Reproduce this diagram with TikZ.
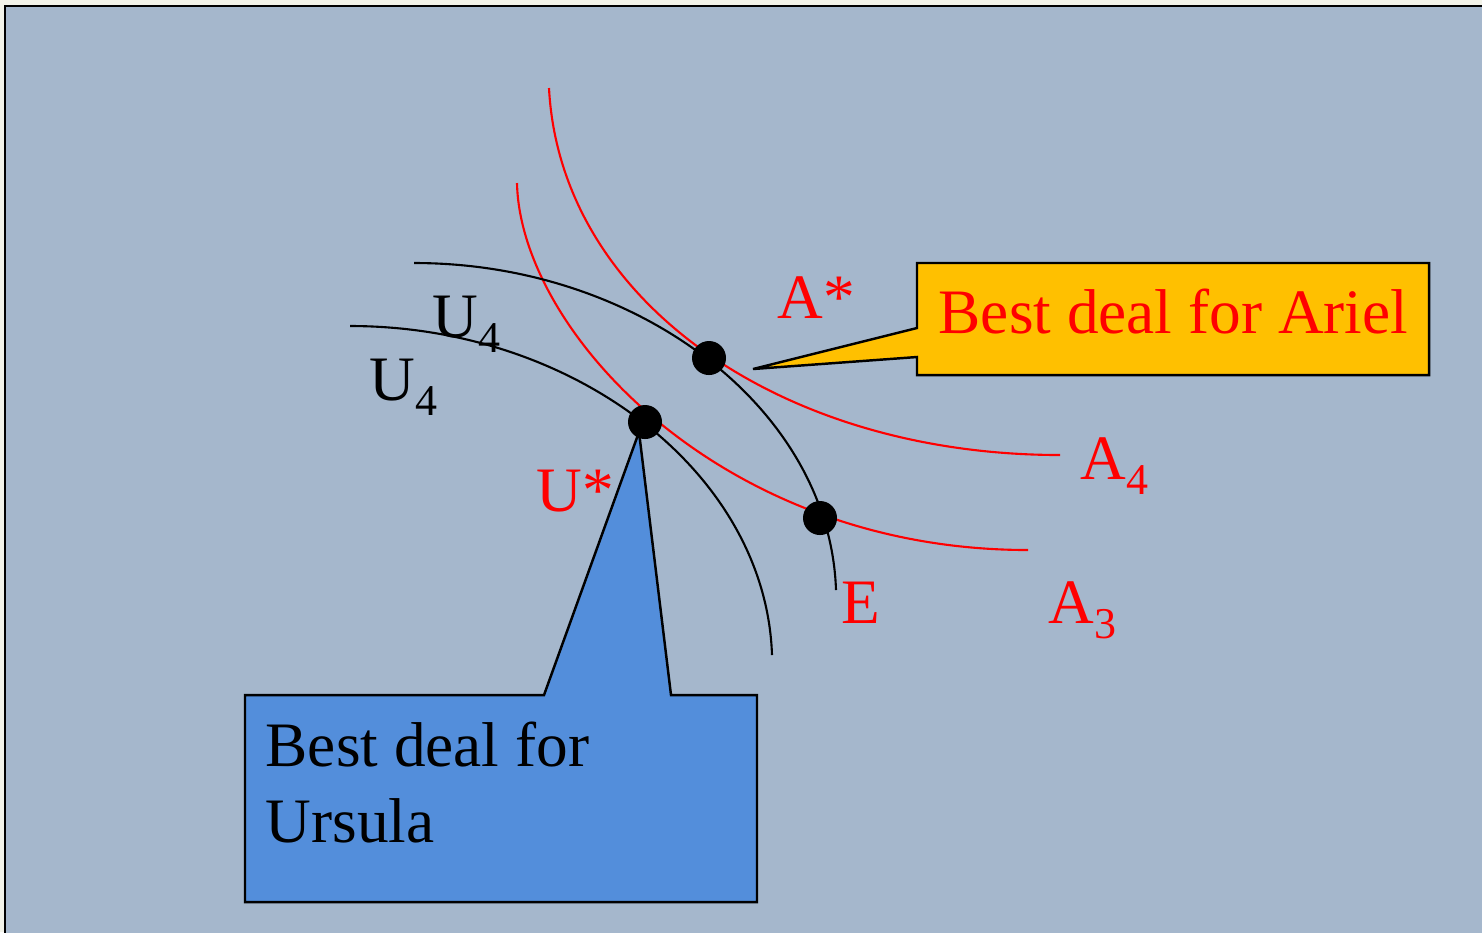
\documentclass[tikz,border=0pt]{standalone}
\usepackage{fontspec}
\setmainfont{Liberation Serif}
\usetikzlibrary{positioning}
\definecolor{slate}{RGB}{165,183,204}
\definecolor{paper}{RGB}{243,243,233}
\definecolor{gold}{RGB}{255,192,0}
\definecolor{sky}{RGB}{83,142,219}
\newcommand{\lowidx}[1]{\raisebox{-4.3pt}{\fontsize{12.5}{14}\selectfont #1}}

\begin{document}
\begin{tikzpicture}[
    x=0.01cm, y=-0.01cm,
    curveA/.style={red, line width=0.6pt},
    curveU/.style={black, line width=0.6pt},
    dot/.style={circle, fill=black, minimum size=0.34cm, inner sep=0pt},
    lbl/.style={font=\fontsize{18}{21.6}\selectfont, inner sep=0pt, anchor=base west},
    box/.style={draw=black, line width=0.7pt}
]
\useasboundingbox (0,0) rectangle (1482,932);
\fill[paper] (0,0) rectangle (1482,932);
\filldraw[fill=slate, draw=black, line width=0.7pt] (5,6) rectangle (1495,945);

% indifference curves
\draw[curveA] (549,88)  .. controls (560,300) and (780,455) .. (1060,455);
\draw[curveA] (517,183) .. controls (520,330) and (720,550) .. (1028,550);
\draw[curveU] (414,263) .. controls (640,263) and (830,410) .. (836,590);
\draw[curveU] (350,326) .. controls (576,326) and (766,474) .. (772,655);

% callouts
\filldraw[fill=sky, box] (245,695) -- (544,695) -- (639,432) -- (671,695)
    -- (757,695) -- (757,902) -- (245,902) -- cycle;
\filldraw[fill=gold, box] (917,263) -- (1429,263) -- (1429,375) -- (917,375)
    -- (917,357) -- (753,369) -- (917,328) -- cycle;

\node[lbl, red] (ariel) at (938,333) {Best deal for Ariel};
\node[lbl, align=left, anchor=north west] (ursula) at (265,721)
    {Best deal for\\Ursula};

% labels
\node[lbl] (u4a) at (432,337) {U\lowidx{4}};
\node[lbl] (u4b) at (369,400) {U\lowidx{4}};
\node[lbl, red] (astarlbl) at (777,318) {A*};
\node[lbl, red] (ustarlbl) at (536,511) {U*};
\node[lbl, red] (a4) at (1080,479) {A\lowidx{4}};
\node[lbl, red] (elbl) at (841,623) {E};
\node[lbl, red] (a3) at (1048,623) {A\lowidx{3}};

% points
\node[dot] (astar) at (709,358) {};
\node[dot] (ustar) at (645,422) {};
\node[dot] (endow) at (820,518) {};
\end{tikzpicture}
\end{document}
